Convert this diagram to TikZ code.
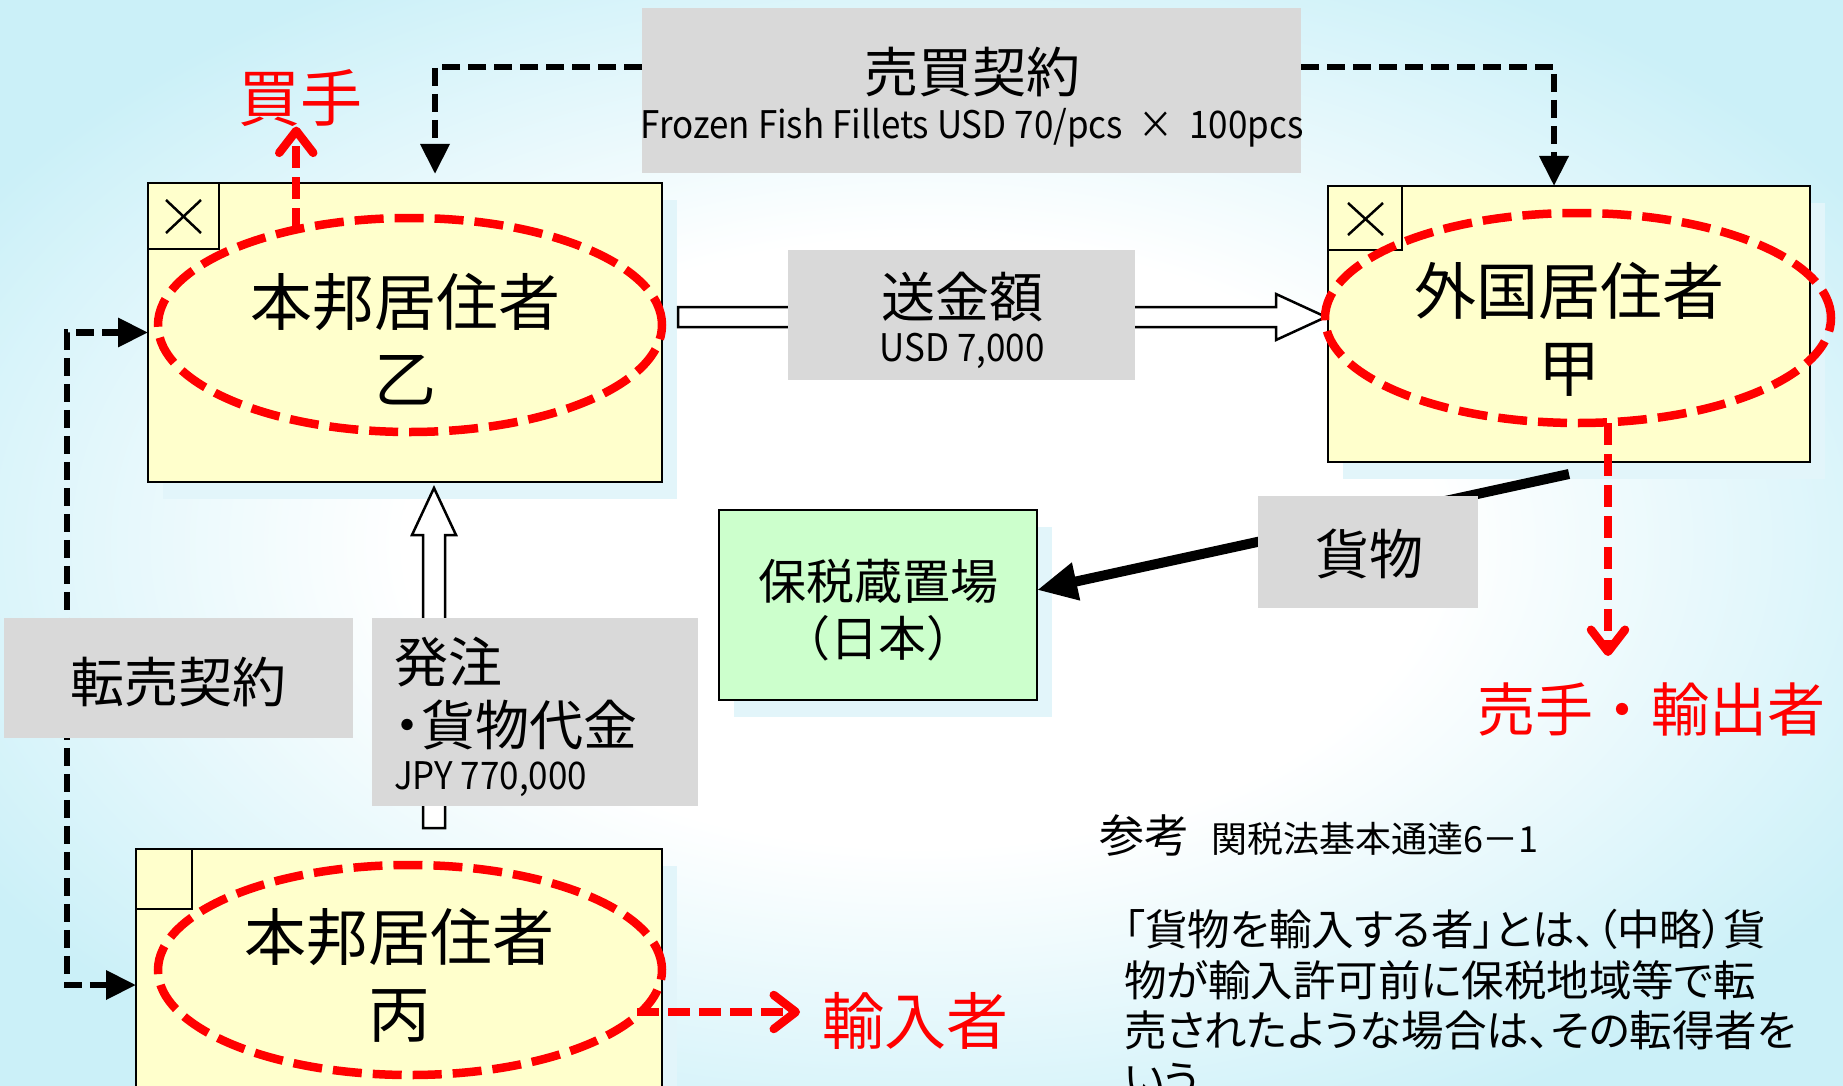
\documentclass[tikz,border=0pt]{standalone}
\usepackage{fontspec}
\setmainfont{Noto Sans CJK JP}
\newfontfamily\jpp[RawFeature=+palt]{Noto Sans CJK JP}
\newfontfamily\latn[FakeStretch=0.92]{Noto Sans CJK JP}
\usetikzlibrary{arrows.meta,shapes.geometric,calc}
\definecolor{boxgray}{RGB}{217,217,217}
\definecolor{boxyellow}{RGB}{255,255,204}
\definecolor{boxgreen}{RGB}{204,255,204}
\definecolor{shadowc}{RGB}{226,245,250}
\definecolor{bgcyan}{RGB}{203,240,248}
\definecolor{myred}{RGB}{255,0,0}
\pgfdeclareradialshading{bgshade}{\pgfpoint{0bp}{0bp}}{color(0bp)=(white); color(14bp)=(white); color(30bp)=(bgcyan); color(50bp)=(bgcyan)}
\tikzset{
  every node/.style={inner sep=0pt, outer sep=0pt},
  graybox/.style={fill=boxgray, draw=none},
  ybox/.style={fill=boxyellow, draw=black, line width=2.5pt},
  gbox/.style={fill=boxgreen, draw=black, line width=2.5pt},
  redell/.style={ellipse, draw=myred, line width=8.5pt, dash pattern=on 29pt off 11pt},
  blkdash/.style={draw=black, line width=6.5pt, dash pattern=on 18pt off 8pt, -{Triangle[length=30pt,width=28pt]}},
  blkboth/.style={draw=black, line width=6.5pt, dash pattern=on 18pt off 8pt, {Triangle[length=30pt,width=28pt]}-{Triangle[length=30pt,width=28pt]}},
  redarr/.style={draw=myred, line width=8.5pt, dash pattern=on 22pt off 9pt, -{Straight Barb[length=22pt,width=34pt,round]}},
  blockarr/.style={fill=white, draw=black, line width=2.5pt},
  cross/.style={draw=black, line width=2.5pt},
  big/.style={font=\fontsize{62}{77}\selectfont, align=center},
  mid/.style={font=\fontsize{54}{64}\selectfont, align=center},
  lat/.style={font=\latn\fontsize{38}{44}\selectfont},
  redtxt/.style={text=myred},
  para/.style={font=\jpp\fontsize{42.5}{50}\selectfont, anchor=west},
}
\begin{document}
\begin{tikzpicture}[x=1pt,y=-1pt]
\useasboundingbox (0,0) rectangle (1843,1086);
\clip (0,0) rectangle (1843,1086);
\shade[shading=bgshade] (0,0) rectangle (1843,1086);

% shadows
\fill[shadowc] (163,200) rectangle (677,499);
\fill[shadowc] (1343,203) rectangle (1825,479);
\fill[shadowc] (734,527) rectangle (1052,717);
\fill[shadowc] (151,866) rectangle (677,1150);

% main boxes
\node[ybox, minimum width=514pt, minimum height=299pt] (b1) at (405,332.5) {};
\node[ybox, minimum width=482pt, minimum height=276pt] (b2) at (1569,324) {};
\node[ybox, minimum width=526pt, minimum height=301pt] (b3) at (399,999.5) {};
\node[gbox, minimum width=318pt, minimum height=190pt] (bond) at (878,605) {};

% corner squares
\draw[cross] (148,183) rectangle (219,249);
\draw[cross] (166,200) -- (201,233) (201,200) -- (166,233);
\draw[cross] (1328,186) rectangle (1402,250);
\draw[cross] (1348,203) -- (1383,235) (1383,203) -- (1348,235);
\draw[cross] (136,849) rectangle (192,909);

% block arrows
\draw[blockarr] (678,307) -- (1276,307) -- (1276,294) -- (1326,317) -- (1276,340) -- (1276,327) -- (678,327) -- cycle;
\draw[blockarr] (423,828) -- (423,535) -- (412,535) -- (434,488) -- (456,535) -- (445,535) -- (445,828) -- cycle;

% goods arrow
\draw[line width=10pt, -{Triangle[length=40pt,width=36pt]}] ([yshift=-12pt]b2.south) -- ([yshift=15pt]bond.east);

% gray label boxes
\node[graybox, minimum width=659pt, minimum height=165pt] (sale) at (971.5,90.5) {};
\node[graybox, minimum width=347pt, minimum height=130pt] (remit) at (961.5,315) {};
\node[graybox, minimum width=220pt, minimum height=112pt] (goods) at (1368,552) {};
\node[graybox, minimum width=326pt, minimum height=188pt] (order) at (535,712) {};

% ellipses
\node[redell, minimum width=504pt, minimum height=214pt] (e1) at (410,325) {};
\node[redell, minimum width=506pt, minimum height=210pt] (e2) at (1578,318) {};
\node[redell, minimum width=504pt, minimum height=210pt] (e3) at (410,970) {};

% texts
\node[big] (t1) at (405,339) {本邦居住者\\乙};
\node[big] (t2) at (1569,329) {外国居住者\\甲};
\node[big] (t3) at (399,975) {本邦居住者\\丙};

\node[mid] at (972,72) {売買契約};
\node[lat] at (972,128) {Frozen Fish Fillets USD 70/pcs \ × \ 100pcs};
\node[mid] at (962,297) {送金額};
\node[lat] at (962,351) {USD 7,000};
\node[mid] at (1369,554) {貨物};
\node[font=\fontsize{48}{57}\selectfont, align=center] at (878,610) {保税蔵置場\\（日本）};
\node[mid, anchor=west] at (394,662) {発注};
\node[mid, anchor=west] at (394,725) {\jpp ・貨物代金};
\node[lat, anchor=west] at (394,779) {JPY 770,000};

\node[redtxt, font=\fontsize{62}{70}\selectfont] (buyer) at (300,98) {買手};
\node[redtxt, font=\fontsize{58}{70}\selectfont] (seller) at (1651,709) {売手・輸出者};
\node[redtxt, font=\fontsize{62}{70}\selectfont] (importer) at (915,1021) {輸入者};

\node[font=\fontsize{45}{50}\selectfont, anchor=west] (ref) at (1099,836) {参考};
\node[font=\fontsize{36}{40}\selectfont, anchor=west] at (1211,839) {関税法基本通達6－1};
\node[para] at (1124,929) {「貨物を輸入する者」とは、（中略）貨};
\node[para] at (1124,980) {物が輸入許可前に保税地域等で転};
\node[para] at (1124,1030) {売されたような場合は、その転得者を};
\node[para] at (1124,1081) {いう};

% dashed black connectors
\draw[blkdash] ([yshift=23.5pt]sale.west) -| ([xshift=30pt,yshift=9pt]b1.north);
\draw[blkdash] ([yshift=23.5pt]sale.east) -| ([xshift=-15pt]b2.north);
\draw[blkboth] (b1.west) -- ++(-81,0) |- ([yshift=14.5pt]b3.west);
\node[graybox, minimum width=349pt, minimum height=120pt] (resale) at (178.5,678) {};
\node[mid] at (178,682) {転売契約};

% red connectors
\draw[redarr] (e1.140) -- (e1.140 |- buyer.south);
\draw[redarr] ([xshift=30pt]e2.south) -- ++(0,233);
\draw[redarr] ([xshift=-25pt,yshift=-42pt]e3.east) -- ++(163,0);
\end{tikzpicture}
\end{document}
